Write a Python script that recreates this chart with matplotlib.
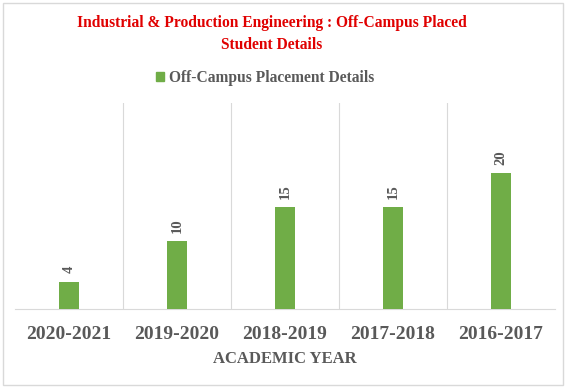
import matplotlib
matplotlib.use("Agg")
import matplotlib.pyplot as plt
from matplotlib.patches import Rectangle, Patch

years = ["2020-2021", "2019-2020", "2018-2019", "2017-2018", "2016-2017"]
placed = [4, 10, 15, 15, 20]
series_name = "Off-Campus Placement Details"
title = "Industrial & Production Engineering : Off-Campus Placed\nStudent Details"
xlabel = "ACADEMIC YEAR"

GREEN = "#70AD47"
GRAY = "#595959"
SERIF = ["Liberation Serif", "DejaVu Serif"]

fig = plt.figure(figsize=(5.67, 3.90), dpi=100)
W, H = 567, 390
ax = fig.add_axes([15 / W, 1 - 309 / H, 540 / W, (309 - 103) / H])

x = list(range(len(years)))
ax.bar(x, placed, width=0.19, color=GREEN, zorder=3)
ax.set_xlim(-0.5, len(years) - 0.5)
ax.set_ylim(0, 30.3)

for xi, v in zip(x, placed):
    ax.annotate(str(v), (xi, v), xytext=(0, 6), textcoords="offset points",
                rotation=90, ha="center", va="bottom", color=GRAY,
                fontsize=10.5, fontweight="bold", family=SERIF)

for b in range(1, len(years)):
    ax.axvline(b - 0.5, color="#D9D9D9", lw=0.8, zorder=1)

for s in ["top", "left", "right"]:
    ax.spines[s].set_visible(False)
ax.spines["bottom"].set_color("#D9D9D9")
ax.set_yticks([])
ax.set_xticks(x)
ax.set_xticklabels(years, fontsize=14, fontweight="bold", color=GRAY, family=SERIF)
ax.tick_params(axis="x", length=0, pad=12)
ax.set_xlabel(xlabel, fontsize=12, fontweight="bold", color=GRAY, family=SERIF, labelpad=6)

fig.text(272 / W, 1 - 34 / H, title, ha="center", va="center", color="#E00000",
         fontsize=11.2, fontweight="bold", family=SERIF, linespacing=1.55)

fig.legend(handles=[Patch(color=GREEN, label=series_name)], loc="center",
           bbox_to_anchor=(265 / W, 1 - 78 / H), frameon=False,
           prop={"family": SERIF, "size": 11.2, "weight": "bold"},
           handlelength=0.55, handleheight=0.55, handletextpad=0.3, labelcolor=GRAY)

fig.patches.append(Rectangle((3 / W, 5 / H), 560 / W, 382 / H, transform=fig.transFigure,
                             fill=False, edgecolor="#D9D9D9", lw=1.0))

fig.savefig("out.png", dpi=100)
